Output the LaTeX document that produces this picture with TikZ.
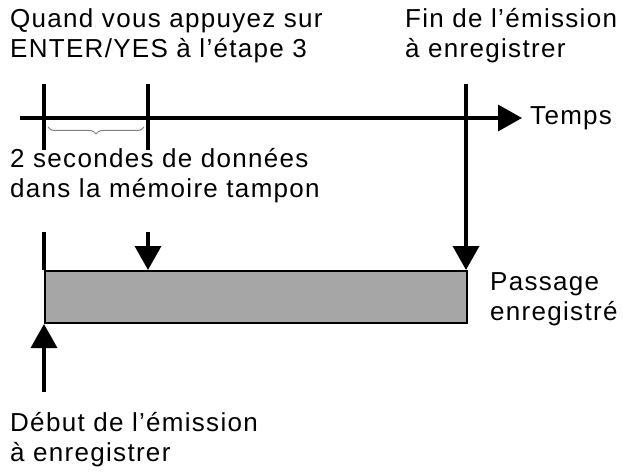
\documentclass[tikz,border=0pt]{standalone}
\usepackage{fontspec}
\setmainfont[LetterSpace=5]{Liberation Sans}
\usetikzlibrary{arrows.meta,decorations.pathreplacing}
\begin{document}
\begin{tikzpicture}[x=1pt,y=-1pt,
  ln/.style={line width=3.5pt},
  arr/.style={ln,-{Triangle[length=24pt,width=26pt]}},
  txt/.style={font=\fontsize{26}{30}\selectfont,align=left,inner sep=0pt}]
\useasboundingbox (0,0) rectangle (623,473);
\node[txt,anchor=north west] (q) at (10,8) {Quand vous appuyez sur\\ENTER/YES à l’étape 3};
\node[txt,anchor=north west] (f) at (405,8) {Fin de l’émission\\à enregistrer};
\coordinate (a0) at (20,118);
\coordinate (a1) at (522,118);
\draw[arr] (a0) -- (a1);
\node[txt,anchor=west] (t) at (530,118) {Temps};
\coordinate (t1a) at (44,84); \coordinate (t1b) at (44,150);
\coordinate (t2a) at (148,84); \coordinate (t2b) at (148,150);
\draw[ln] (t1a) -- (t1b);
\draw[ln] (t2a) -- (t2b);
\draw[gray,line width=1pt,decorate,decoration={brace,amplitude=7pt,mirror}] (48,127) -- (144,127);
\node[txt,anchor=north west] (s) at (10,148) {2 secondes de données\\dans la mémoire tampon};
\coordinate (fa) at (466,84); \coordinate (fb) at (466,270);
\draw[arr] (fa) -- (fb);
\coordinate (ma) at (148,232); \coordinate (mb) at (148,270);
\draw[arr] (ma) -- (mb);
\node[draw=black,line width=2pt,fill=gray!70,minimum width=422pt,minimum height=52pt,anchor=north west,inner sep=0pt] (r) at (44,270) {};
\coordinate (la) at (44,232);
\draw[ln] (la) -- (r.north west);
\coordinate (ba) at (44,392);
\draw[arr] (ba) -- (r.south west);
\node[txt,anchor=north west] (p) at (490,272) {Passage\\enregistré};
\node[txt,anchor=north west] (d) at (10,412) {Début de l’émission\\à enregistrer};
\end{tikzpicture}
\end{document}
